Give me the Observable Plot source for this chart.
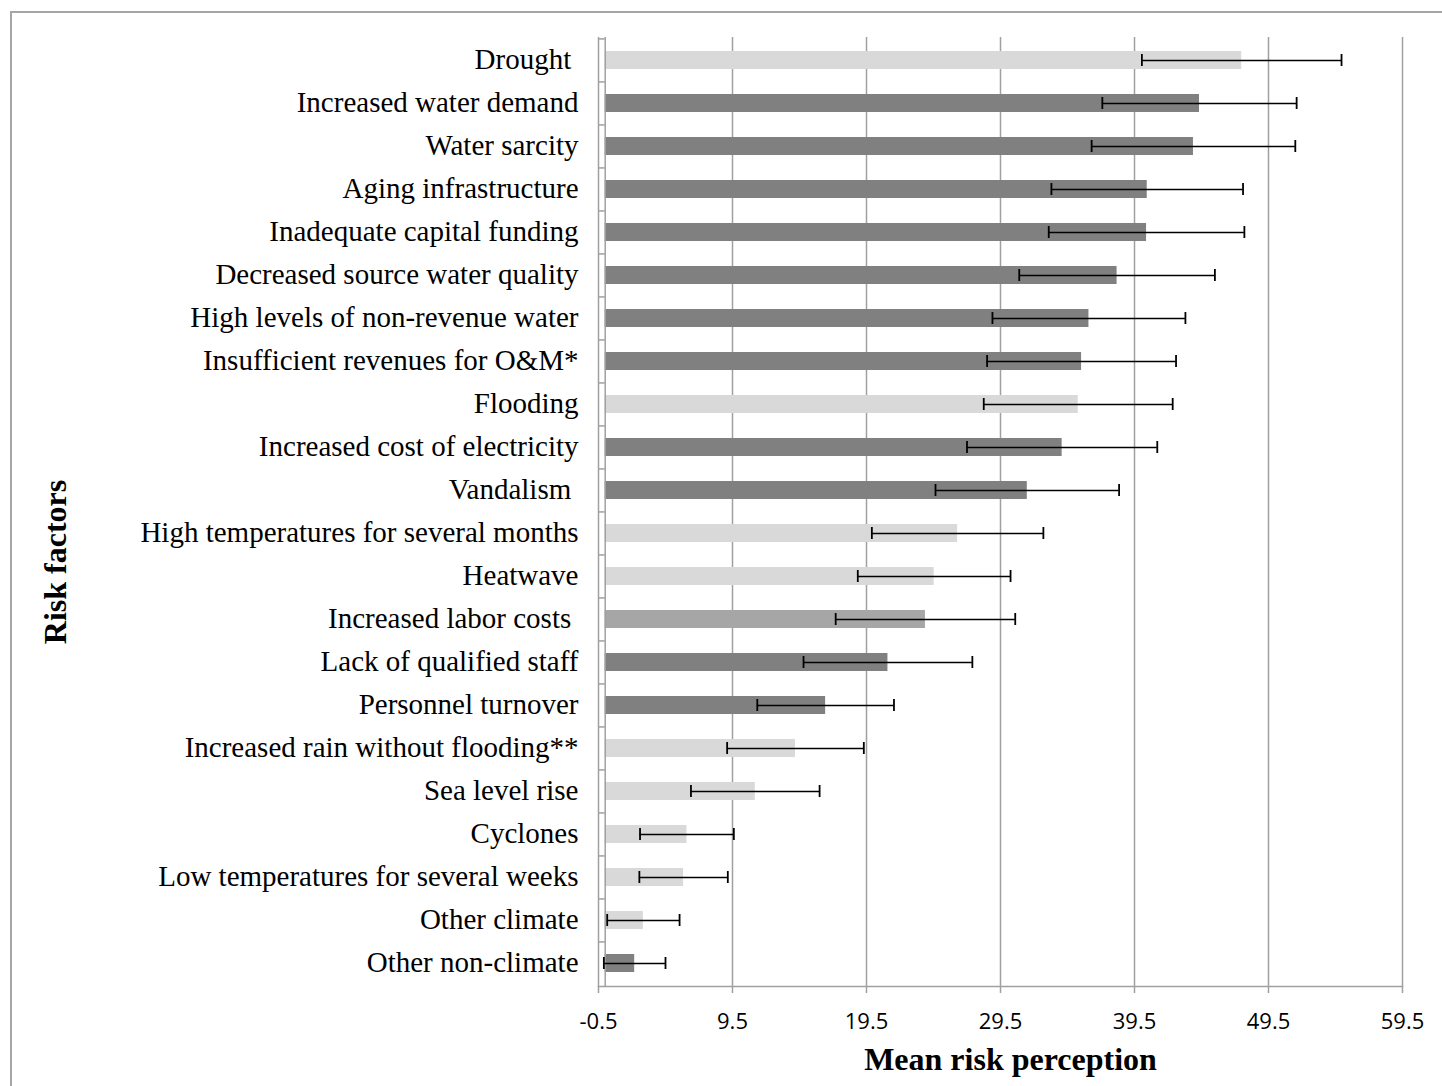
<!DOCTYPE html>
<html>
<head>
<meta charset="utf-8">
<script src="https://cdn.jsdelivr.net/npm/d3@7"></script>
<script src="https://cdn.jsdelivr.net/npm/@observablehq/plot@0.6"></script>
<style>
  html, body { margin: 0; padding: 0; background: #fff; }
  #wrap { position: relative; width: 1442px; height: 1086px; overflow: hidden; }
  #border { position: absolute; left: 10px; top: 11px; width: 1440px; height: 1090px;
            border-left: 2px solid #a6a6a6; border-top: 2px solid #a6a6a6; box-sizing: border-box; }
  #chart { position: absolute; left: 0; top: 0; }
  #chart svg text { white-space: pre; }
</style>
</head>
<body>
<div id="wrap"><div id="border"></div><div id="chart"></div></div>
<script>
const categories = [
  "Drought ",
  "Increased water demand",
  "Water sarcity",
  "Aging infrastructure",
  "Inadequate capital funding",
  "Decreased source water quality",
  "High levels of non-revenue water",
  "Insufficient revenues for O&M*",
  "Flooding",
  "Increased cost of electricity",
  "Vandalism ",
  "High temperatures for several months",
  "Heatwave",
  "Increased labor costs ",
  "Lack of qualified staff",
  "Personnel turnover",
  "Increased rain without flooding**",
  "Sea level rise",
  "Cyclones",
  "Low temperatures for several weeks",
  "Other climate",
  "Other non-climate"
];
const means = [47.5, 44.35, 43.9, 40.45, 40.4, 38.2, 36.1, 35.55, 35.3, 34.1, 31.5,
               26.3, 24.55, 23.9, 21.1, 16.45, 14.2, 11.2, 6.1, 5.85, 2.85, 2.2];
const errors = [7.45, 7.25, 7.6, 7.15, 7.3, 7.3, 7.2, 7.05, 7.05, 7.1, 6.85,
                6.4, 5.7, 6.7, 6.3, 5.1, 5.1, 4.8, 3.5, 3.3, 2.7, 2.3];
const groups = ["climate", "non-climate", "non-climate", "non-climate", "non-climate", "non-climate",
                "non-climate", "non-climate", "climate", "non-climate", "non-climate",
                "climate", "climate", "labor", "non-climate", "non-climate", "climate",
                "climate", "climate", "climate", "climate", "non-climate"];
const xTicks = [-0.5, 9.5, 19.5, 29.5, 39.5, 49.5, 59.5];

const data = categories.map((c, i) => ({
  cat: c, mean: means[i], err: errors[i], group: groups[i],
  lo: means[i] - errors[i], hi: means[i] + errors[i]
}));

const W = 1442, H = 1086, mt = 37, mb = 100, ml = 598, mr = 40;
const step = (H - mt - mb) / categories.length;
const grid = "#a0a0a0";

const chart = Plot.plot({
  width: W, height: H,
  marginLeft: ml, marginRight: mr, marginTop: mt, marginBottom: mb,
  style: { background: "transparent", overflow: "visible" },
  x: { domain: [-0.5, 59.5], ticks: xTicks, label: null },
  y: { domain: categories, paddingInner: 0.59, paddingOuter: 0.295, label: null },
  color: { domain: ["climate", "non-climate", "labor"], range: ["#d9d9d9", "#808080", "#a6a6a6"] },
  marks: [
    Plot.ruleX(xTicks, { stroke: grid, strokeWidth: 1.5 }),
    Plot.frame({ anchor: "bottom", stroke: grid, strokeWidth: 1.5 }),
    Plot.axisX({ ticks: xTicks, tickFormat: d => d.toFixed(1), tickSize: 7, stroke: grid, strokeWidth: 1.5,
                 tickPadding: 20, fontSize: 22, fontFamily: "Open Sans", fill: "#000", label: null }),
    Plot.axisY({ tickSize: 0, tickPadding: 20, fontSize: 29, fontFamily: "Liberation Serif",
                 fill: "#000", label: null, dy: -1 }),
    Plot.barX(data, { y: "cat", x1: 0, x2: "mean", fill: "group" }),
    Plot.ruleX([0], { stroke: grid, strokeWidth: 1.5 }),
    Plot.ruleY(data, { y: "cat", x1: -0.5, x2: 0, dy: -step / 2, stroke: grid, strokeWidth: 1.5 }),
    Plot.ruleY(data, { y: "cat", x1: "lo", x2: "hi", stroke: "#000", strokeWidth: 1.5 }),
    Plot.tickX(data, { y: "cat", x: "lo", stroke: "#000", strokeWidth: 1.8, insetTop: 3, insetBottom: 3 }),
    Plot.tickX(data, { y: "cat", x: "hi", stroke: "#000", strokeWidth: 1.8, insetTop: 3, insetBottom: 3 }),
    Plot.text(["Mean risk perception"], { frameAnchor: "bottom", lineAnchor: "middle", dy: 73, dx: 10,
               fontSize: 32, fontWeight: "bold", fontFamily: "Liberation Serif", fill: "#000" }),
    Plot.text(["Risk factors"], { frameAnchor: "left", textAnchor: "middle", lineAnchor: "middle",
               dx: -543, dy: 50, rotate: -90, fontSize: 32,
               fontWeight: "bold", fontFamily: "Liberation Serif", fill: "#000" })
  ]
});
document.getElementById("chart").appendChild(chart);
</script>
</body>
</html>
